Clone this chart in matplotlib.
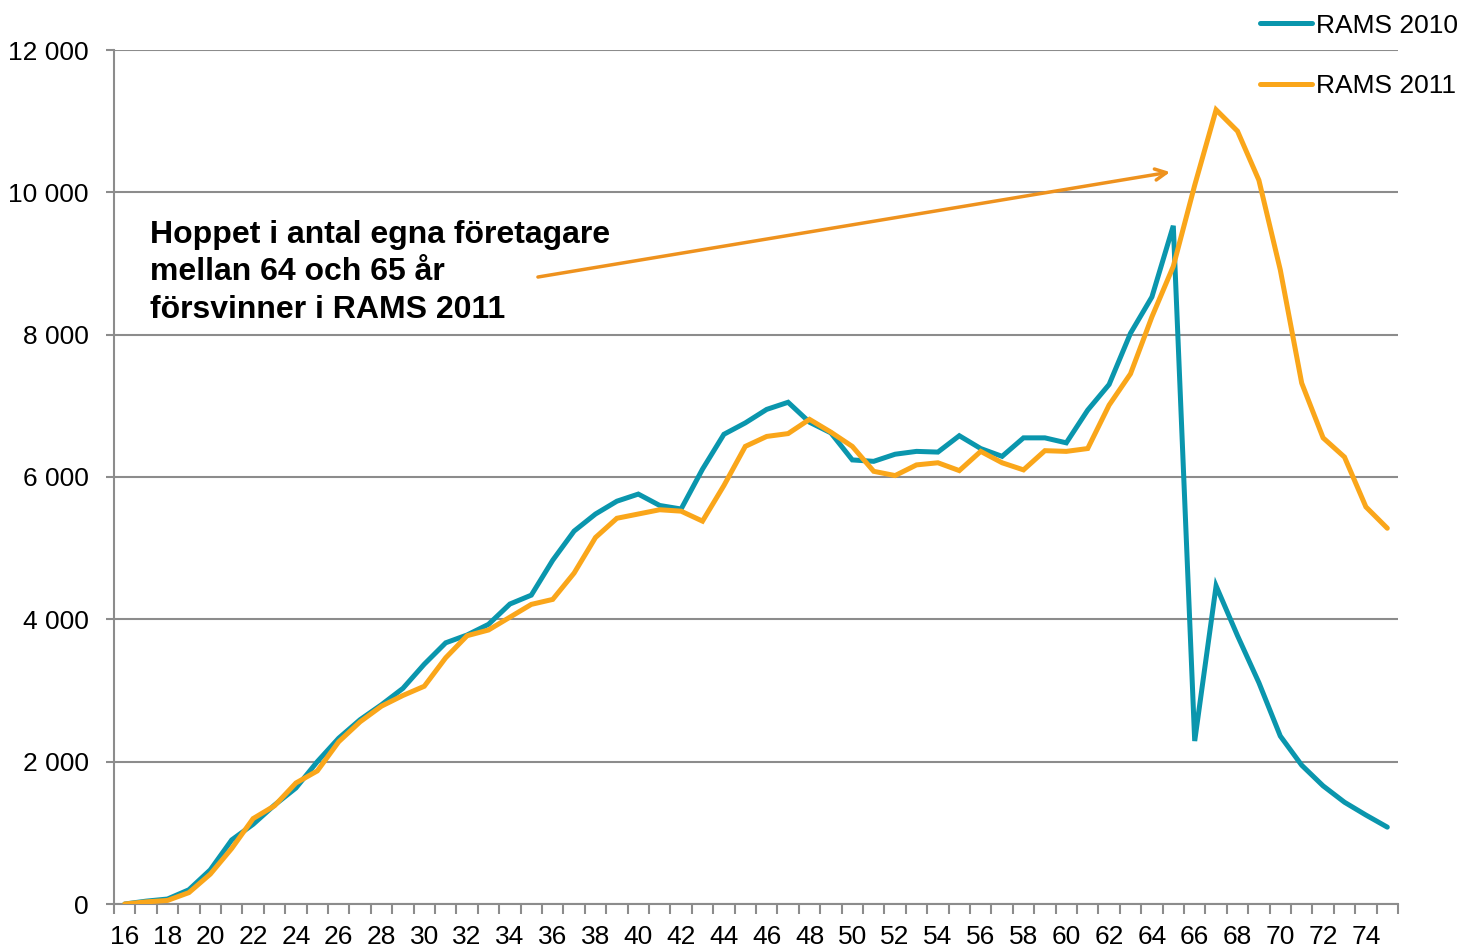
import matplotlib
matplotlib.use("Agg")
import matplotlib.pyplot as plt
from matplotlib.ticker import FixedLocator, FuncFormatter

plt.rcParams['font.family'] = ['Liberation Sans', 'DejaVu Sans']

ages = list(range(16, 76))
rams_2010 = [0, 40, 70, 200, 480, 900, 1120, 1390, 1630, 2000,
             2330, 2590, 2800, 3030, 3370, 3670, 3780, 3930, 4215, 4340,
             4830, 5240, 5480, 5660, 5760, 5600, 5550, 6110, 6600, 6760,
             6950, 7050, 6770, 6620, 6240, 6220, 6320, 6360, 6350, 6580,
             6400, 6290, 6550, 6550, 6480, 6940, 7300, 8020, 8530, 9530,
             2290, 4470, 3770, 3110, 2360, 1950, 1660, 1430, 1250, 1080]
rams_2011 = [0, 30, 50, 160, 420, 780, 1200, 1380, 1700, 1870,
             2280, 2560, 2780, 2930, 3060, 3460, 3770, 3850, 4030, 4210,
             4280, 4650, 5150, 5420, 5480, 5540, 5520, 5380, 5880, 6430,
             6570, 6610, 6810, 6630, 6430, 6080, 6020, 6170, 6200, 6090,
             6360, 6200, 6100, 6370, 6360, 6400, 7010, 7450, 8250, 8960,
             10100, 11160, 10860, 10170, 8910, 7320, 6550, 6280, 5580, 5280]
series_names = ["RAMS 2010", "RAMS 2011"]
y_ticks = [0, 2000, 4000, 6000, 8000, 10000, 12000]
annotation = "Hoppet i antal egna företagare\nmellan 64 och 65 år\nförsvinner i RAMS 2011"

teal = '#0A96AD'
orange = '#FAA61A'
arrow_col = '#EE921E'
grid_col = '#8C8C8C'

fig = plt.figure(figsize=(14.61, 9.48), dpi=100)
ax = fig.add_axes([114/1461, 44/948, (1398-114)/1461, (904-50)/948])

x = list(range(len(ages)))
l1, = ax.plot(x, rams_2010, color=teal, lw=3.6, solid_capstyle='round', solid_joinstyle='miter', label=series_names[0], zorder=3)
l2, = ax.plot(x, rams_2011, color=orange, lw=3.6, solid_capstyle='round', solid_joinstyle='miter', label=series_names[1], zorder=4)

ax.set_xlim(-0.5, len(ages) - 0.5)
ax.set_ylim(0, 12000)

ax.set_yticks(y_ticks)
ax.yaxis.set_major_formatter(FuncFormatter(lambda v, p: f"{int(v):,}".replace(",", " ")))
ax.grid(axis='y', color=grid_col, lw=1.5)
ax.set_axisbelow(True)

# x ticks: marks at category boundaries, labels at every other category
ax.xaxis.set_major_locator(FixedLocator([i - 0.5 for i in range(len(ages) + 1)]))
ax.xaxis.set_major_formatter(FuncFormatter(lambda v, p: ""))
ax.xaxis.set_minor_locator(FixedLocator([i for i in range(0, len(ages), 2)]))
ax.xaxis.set_minor_formatter(FuncFormatter(lambda v, p: str(ages[int(round(v))])))
ax.tick_params(axis='x', which='major', length=7, width=1.5, color=grid_col, direction='out')
ax.tick_params(axis='x', which='minor', length=0, labelsize=19, pad=15)
ax.tick_params(axis='y', which='major', length=6, width=1.5, color=grid_col, labelsize=19, pad=12)

for s in ['top', 'right']:
    ax.spines[s].set_visible(False)
for s in ['left', 'bottom']:
    ax.spines[s].set_color(grid_col)
    ax.spines[s].set_linewidth(1.5)

ax.text(1.18, 9610, annotation, fontsize=23, fontweight='bold', va='top', ha='left',
        linespacing=1.32)

ax.annotate("", xy=(48.85, 10285), xytext=(19.31, 8810),
            arrowprops=dict(arrowstyle='->,head_length=0.8,head_width=0.4', color=arrow_col, lw=2.5,
                            shrinkA=0, shrinkB=0))

fig.legend(handles=[l1, l2], loc='upper right', bbox_to_anchor=(1.0126, 1.008), frameon=False,
           fontsize=19, handlelength=2.0, handletextpad=0.15, labelspacing=1.38, borderpad=0.3)

fig.savefig("out.png", dpi=100)
